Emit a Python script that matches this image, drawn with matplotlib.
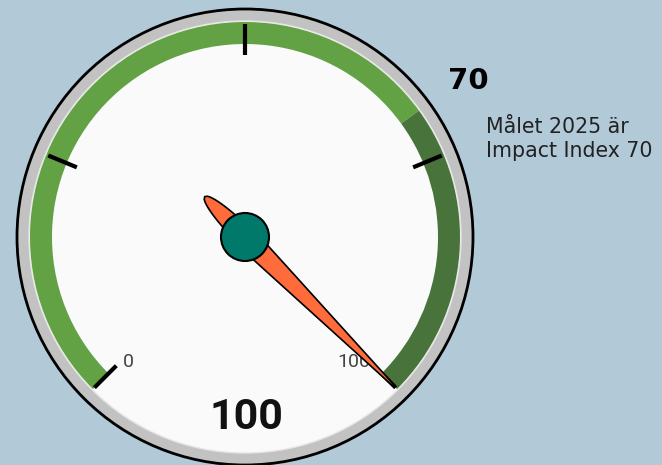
import numpy as np
import matplotlib
matplotlib.use("Agg")
import matplotlib.pyplot as plt
from matplotlib.patches import Wedge, Circle, Polygon

# ---- data ----
value = 100
target = 70
vmin, vmax = 0, 100
major_ticks = [0, 25, 50, 75, 100]
end_labels = ["0", "100"]
band_ranges = [(0, 70), (70, 100)]
band_colors = ["#62a144", "#48733a"]
target_text = "Målet 2025 är\nImpact Index 70"

# ---- layout ----
W, H = 662, 465
cx, cy = 245, H - 237
R_outer = 228
R_ring_in = 216
R_band_out = 215
R_band_in = 193
start_deg, sweep = 225, 270

def ang(v):
    return start_deg - sweep * (v - vmin) / (vmax - vmin)

def pt(r, a_deg):
    a = np.deg2rad(a_deg)
    return cx + r * np.cos(a), cy + r * np.sin(a)

fig = plt.figure(figsize=(W / 100, H / 100), dpi=100)
fig.patch.set_facecolor("#b2c9d8")
ax = fig.add_axes([0, 0, 1, 1])
ax.set_xlim(0, W)
ax.set_ylim(0, H)
ax.axis("off")

# outer ring and face
ax.add_patch(Circle((cx, cy), R_outer, facecolor="#c2c2c2", edgecolor="black", lw=2, zorder=1))
ax.add_patch(Circle((cx, cy), R_ring_in, facecolor="#fafafa", edgecolor="#e6e6e6", lw=1, zorder=2))

# bands
for (a, b), c in zip(band_ranges, band_colors):
    ax.add_patch(Wedge((cx, cy), R_band_out, ang(b), ang(a), width=R_band_out - R_band_in,
                       facecolor=c, edgecolor="none", zorder=3))

# ticks
for t in major_ticks:
    x0, y0 = pt(182, ang(t))
    x1, y1 = pt(213, ang(t))
    ax.plot([x0, x1], [y0, y1], color="black", lw=3, solid_capstyle="butt", zorder=4)

# end labels
label_offsets = [(4, -5), (-11, -5)]
for t, lab, (ox, oy) in zip([vmin, vmax], end_labels, label_offsets):
    x, y = pt(170, ang(t))
    ax.text(x + ox, y + oy, lab, ha="center", va="center", fontsize=14, color="#444444",
            family="Roboto", zorder=4)

# needle
a = np.deg2rad(ang(value))
u_tail = np.linspace(-57, 0, 40)
w_tail = 9.5 * np.sqrt(np.clip(1 - (u_tail / 57) ** 2, 0, 1))
u_front = np.linspace(0, 212, 40)
w_front = 10.5 * (1 - u_front / 212) + 0.7
us = np.concatenate([u_tail, u_front[1:]])
ws = np.concatenate([w_tail, w_front[1:]])
U = np.concatenate([us, us[::-1]])
Wp = np.concatenate([ws, -ws[::-1]])
ex, ey = np.cos(a), np.sin(a)
px, py = -np.sin(a), np.cos(a)
xs = cx + U * ex + Wp * px
ys = cy + U * ey + Wp * py
ax.add_patch(Polygon(np.column_stack([xs, ys]), closed=True, facecolor="#ff6b3a",
                     edgecolor="black", lw=1.2, zorder=5))
ax.add_patch(Circle((cx, cy), 24, facecolor="#00796b", edgecolor="black", lw=1.5, zorder=6))

# value text
ax.text(cx + 1, H - 417, f"{value}", ha="center", va="center", fontsize=31, fontweight="bold",
        family="Roboto", color="#111111", zorder=6)

# target annotation
ax.text(468, H - 81, f"{target}", ha="center", va="center", fontsize=21, fontweight="heavy",
        family="DejaVu Sans", color="black")
ax.text(486, H - 139, target_text, ha="left", va="center", fontsize=14.8,
        family="DejaVu Sans", color="#222222", linespacing=1.2)

fig.savefig("out.png", dpi=100, facecolor=fig.get_facecolor())
